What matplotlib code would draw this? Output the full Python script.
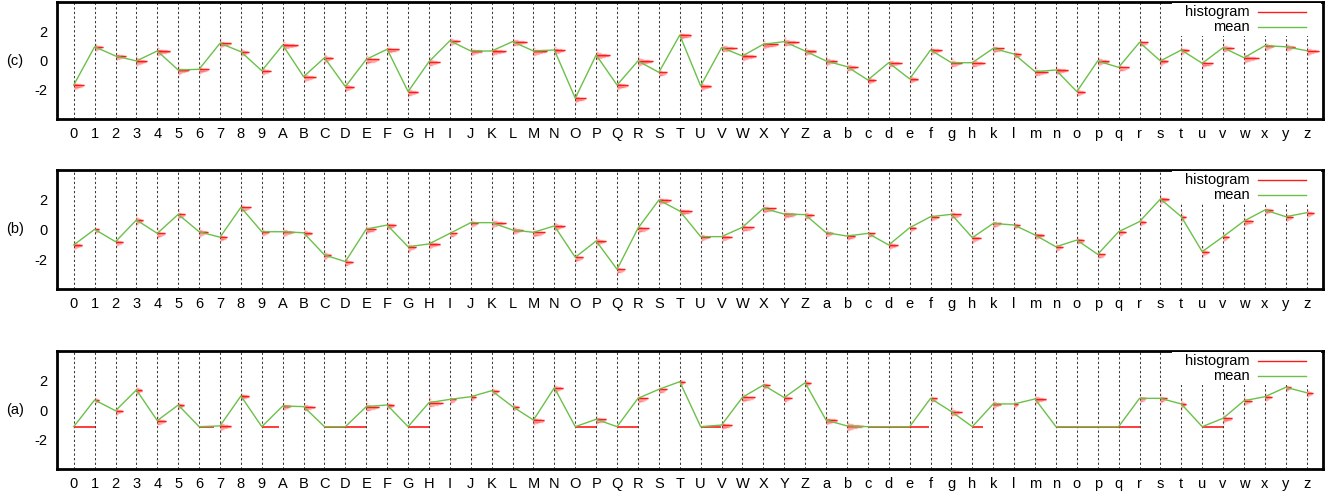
import matplotlib
matplotlib.use('Agg')
import matplotlib.pyplot as plt
import numpy as np
from matplotlib.transforms import blended_transform_factory
from matplotlib.patches import Rectangle

plt.rcParams['font.family'] = ['Liberation Sans', 'DejaVu Sans']

categories = list('0123456789ABCDEFGHIJKLMNOPQRSTUVWXYZ') + list('abcdefghklmnopqrstuvwxyz')
y_ticks = [-2, 0, 2]

# panel (c)
mean_c = [-1.68, 0.94, 0.31, -0.03, 0.65, -0.65, -0.60, 1.18, 0.60, -0.70,
          1.06, -1.11, 0.19, -1.79, 0.08, 0.77, -2.13, -0.08, 1.35, 0.65,
          0.65, 1.29, 0.65, 0.72, -2.58, 0.38, -1.68, -0.03, -0.81, 1.74,
          -1.74, 0.88, 0.31, 1.11, 1.29, 0.65,
          -0.03, -0.42, -1.33, -0.15, -1.26, 0.72, -0.15, -0.15,
          0.83, 0.44, -0.76, -0.65, -2.13, -0.03, -0.47, 1.24,
          -0.03, 0.72, -0.19, 0.88, 0.19, 1.01, 0.94, 0.67]
hist_c = [.48, .38, .48, .50, .62, .50, .46, .53, .37, .43,
          .73, .59, .41, .43, .62, .57, .48, .53, .48, .56,
          .69, .70, .65, .50, .50, .65, .53, .72, .38, .56,
          .51, .72, .67, .72, .70, .54,
          .53, .53, .37, .64, .40, .53, .50, .60,
          .50, .33, .60, .59, .40, .56, .50, .40,
          .35, .38, .50, .50, .70, .45, .45, .57]

# panel (b)
mean_b = [-1.04, 0.01, -0.82, 0.64, -0.26, 1.02, -0.15, -0.52, 1.49, -0.15,
          -0.15, -0.22, -1.71, -2.16, 0.03, 0.30, -1.16, -0.97, -0.26, 0.46,
          0.46, -0.03, -0.19, 0.24, -1.87, -0.77, -2.68, 0.08, 1.98, 1.24,
          -0.48, -0.48, 0.15, 1.42, 1.04, 1.00,
          -0.21, -0.44, -0.26, -1.04, 0.12, 0.86, 1.02, -0.55,
          0.41, 0.30, -0.37, -1.16, -0.71, -1.67, -0.15, 0.53,
          2.05, 0.86, -1.49, -0.48, 0.57, 1.31, 0.86, 1.13]
hist_b = [.41, .22, .38, .32, .38, .33, .41, .32, .48, .35,
          .54, .40, .33, .37, .46, .41, .40, .53, .32, .35,
          .67, .48, .54, .50, .38, .45, .37, .51, .57, .59,
          .43, .48, .54, .59, .56, .41,
          .33, .40, .32, .43, .32, .40, .48, .40,
          .38, .26, .45, .32, .35, .37, .35, .30,
          .43, .22, .33, .30, .45, .41, .35, .37]

# panel (a)
mean_a = [-1.13, 0.68, -0.05, 1.36, -0.72, 0.34, -1.13, -1.08, 0.95, -1.13,
          0.27, 0.23, -1.13, -1.13, 0.23, 0.34, -1.13, 0.50, 0.72, 0.90,
          1.31, 0.23, -0.68, 1.51, -1.13, -0.63, -1.13, 0.79, 1.40, 1.92,
          -1.13, -1.02, 0.86, 1.69, 0.84, 1.85,
          -0.68, -1.08, -1.13, -1.13, -1.13, 0.79, -0.11, -1.13,
          0.41, 0.41, 0.75, -1.13, -1.13, -1.13, -1.13, 0.79,
          0.79, 0.41, -1.13, -0.56, 0.63, 0.90, 1.54, 1.17]
hist_a = [1.0, .22, .35, .29, .43, .27, .73, .53, .40, .83,
          .38, .56, 1.0, .97, .62, .33, 1.0, .65, .29, .24,
          .37, .32, .51, .41, 1.0, .49, 1.0, .48, .37, .24,
          .99, .48, .59, .30, .35, .26,
          .54, .77, 1.0, 1.0, .91, .32, .51, .51,
          .38, .18, .53, 1.0, 1.0, 1.0, 1.0, .30,
          .30, .22, .99, .43, .37, .33, .24, .29]
# categories whose samples all share one value (single flat histogram bar)
single_a = ['0', '6', '9', 'C', 'D', 'G', 'O', 'Q', 'U', 'c', 'd', 'e', 'h',
            'n', 'o', 'p', 'q', 'u']

RED = '#ff1a1a'
GREEN = '#6cc04a'
W, H = 1336, 497
fig = plt.figure(figsize=(W / 100, H / 100), dpi=100)

left_px, right_px = 57, 1323
panels = [('(c)', mean_c, hist_c, [], 2, 119),
          ('(b)', mean_b, hist_b, [], 170, 289),
          ('(a)', mean_a, hist_a, single_a, 351, 469)]

# fixed drawing profile of a sideways histogram around its centre
prof_off = np.array([0.35, 0.22, 0.10, 0.05, 0.0, -0.05, -0.10, -0.15, -0.20, -0.26, -0.38])
prof_rel = np.array([0.06, 0.12, 0.35, 0.75, 1.0, 0.95, 0.85, 0.65, 0.4, 0.18, 0.06])

x = np.arange(len(categories))
for label, mean, hist, single, top, bot in panels:
    ax = fig.add_axes([left_px / W, (H - bot) / H, (right_px - left_px) / W, (bot - top) / H])
    ax.set_xlim(-0.8, len(categories) - 1 + 0.78)
    ax.set_ylim(-4, 4)
    ax.set_xticks(x)
    ax.set_xticklabels(categories)
    ax.set_yticks(y_ticks)
    ax.set_yticklabels([str(t) for t in y_ticks])
    ax.tick_params(axis='both', length=0, labelsize=10.5)
    ax.tick_params(axis='x', pad=6)
    ax.tick_params(axis='y', pad=7)
    ax.grid(axis='x', color='#3a3a3a', linestyle=(0, (2.2, 2.2)), lw=0.75)
    ax.set_axisbelow(True)
    for s in ax.spines.values():
        s.set_linewidth(2.0)

    mean = np.array(mean)
    hist = np.array(hist)
    for i in x:
        if categories[i] in single:
            ax.hlines(mean[i] - 0.03, i, i + hist[i], color=RED, lw=1.2, zorder=3)
        else:
            ax.hlines(mean[i] + prof_off, i, i + hist[i] * prof_rel, color=RED,
                      lw=1.0, alpha=0.3, zorder=3)
            ax.hlines(mean[i], i, i + hist[i], color=RED, lw=1.0, zorder=3)
    ax.plot(x, mean, color=GREEN, lw=1.0, zorder=4)

    tr = blended_transform_factory(ax.transAxes, ax.transData)
    ax.text((15 - left_px) / (right_px - left_px), 0, label, transform=tr,
            ha='center', va='center', fontsize=10.5)

    # legend (manual, right-aligned text)
    hpx = bot - top
    wpx = right_px - left_px
    def fx(px):
        return (px - left_px) / wpx
    def fy(py):
        return 1 - (py - 2) / hpx
    ax.add_patch(Rectangle((fx(1172), fy(36)), fx(1321) - fx(1172), fy(3) - fy(36),
                           transform=ax.transAxes, facecolor='white', edgecolor='none',
                           zorder=5))
    ax.text(fx(1250), fy(12), 'histogram', transform=ax.transAxes, ha='right',
            va='center', fontsize=10.5, zorder=6)
    ax.text(fx(1250), fy(27), 'mean', transform=ax.transAxes, ha='right',
            va='center', fontsize=10.5, zorder=6)
    ax.plot([fx(1258), fx(1306)], [fy(12), fy(12)], transform=ax.transAxes,
            color=RED, lw=1.0, zorder=6)
    ax.plot([fx(1258), fx(1306)], [fy(27), fy(27)], transform=ax.transAxes,
            color=GREEN, lw=1.0, zorder=6)

fig.savefig('out.png', dpi=100)
